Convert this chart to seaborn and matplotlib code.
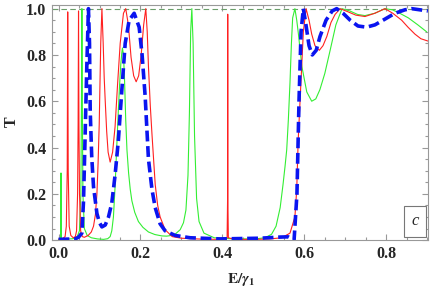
import matplotlib
matplotlib.use('Agg')
import matplotlib.pyplot as plt
import seaborn as sns
from matplotlib.ticker import MultipleLocator

# red curve
red_x = [0.0, 0.010, 0.016, 0.019, 0.0212, 0.0224, 0.0236, 0.026, 0.030, 0.036,
         0.041, 0.044, 0.0465, 0.0478, 0.0488, 0.0498, 0.0512, 0.054, 0.058, 0.063,
         0.0724, 0.080, 0.0854, 0.0900, 0.0937, 0.0965, 0.0993, 0.103, 0.1059, 0.109,
         0.1115, 0.114, 0.1175, 0.121, 0.126, 0.132, 0.138, 0.144, 0.1505, 0.1585,
         0.164, 0.1705, 0.177, 0.1834, 0.1895, 0.1956, 0.2017, 0.2078, 0.213, 0.2165,
         0.2195, 0.224, 0.228, 0.236, 0.242, 0.248, 0.260, 0.2775, 0.30, 0.35,
         0.40, 0.4115, 0.4128, 0.413, 0.4132, 0.4145, 0.43, 0.48, 0.516, 0.545,
         0.565, 0.577, 0.5815, 0.585, 0.5895, 0.5976, 0.6043, 0.6115, 0.618, 0.626,
         0.6366, 0.6456, 0.655, 0.665, 0.675, 0.6875, 0.707, 0.7256, 0.748, 0.772,
         0.7968, 0.816, 0.8376, 0.853, 0.870, 0.8846, 0.9017]
red_y = [0.004, 0.006, 0.015, 0.06, 0.3, 0.986, 0.3, 0.06, 0.02, 0.01,
         0.015, 0.04, 0.2, 0.5, 0.99, 0.5, 0.2, 0.04, 0.015, 0.012,
         0.02, 0.035, 0.06, 0.11, 0.2, 0.33, 0.5, 0.85, 1.0, 0.85,
         0.7, 0.6, 0.47, 0.38, 0.337, 0.38, 0.49, 0.67, 0.85, 0.98,
         1.0, 0.93, 0.79, 0.71, 0.684, 0.71, 0.8, 0.93, 1.0, 0.9,
         0.75, 0.58, 0.46, 0.24, 0.15, 0.1, 0.045, 0.015, 0.008, 0.004,
         0.003, 0.01, 0.2, 0.976, 0.2, 0.01, 0.003, 0.003, 0.005, 0.01,
         0.03, 0.1, 0.22, 0.43, 0.6, 0.9, 1.0, 0.95, 0.89, 0.84,
         0.82, 0.84, 0.88, 0.94, 0.975, 1.0, 0.986, 0.972, 0.966, 0.98,
         1.0, 0.98, 0.95, 0.92, 0.89, 0.87, 0.86]

# green curve
green_x = [0.0, 0.004, 0.0055, 0.006, 0.0065, 0.008, 0.02, 0.035, 0.045, 0.051,
           0.0545, 0.056, 0.057, 0.058, 0.0595, 0.063, 0.07, 0.08, 0.095, 0.110,
           0.120, 0.126, 0.130, 0.134, 0.138, 0.142, 0.146, 0.149, 0.152, 0.1545,
           0.156, 0.1585, 0.161, 0.164, 0.167, 0.171, 0.175, 0.179, 0.186, 0.195,
           0.206, 0.2195, 0.235, 0.252, 0.264, 0.275, 0.285, 0.297, 0.305, 0.311,
           0.316, 0.3195, 0.3225, 0.3254, 0.3285, 0.332, 0.337, 0.343, 0.355, 0.38,
           0.43, 0.48, 0.504, 0.520, 0.531, 0.541, 0.548, 0.553, 0.557, 0.561,
           0.565, 0.5685, 0.5715, 0.577, 0.5815, 0.5856, 0.594, 0.606, 0.618, 0.628,
           0.638, 0.650, 0.663, 0.677, 0.692, 0.711, 0.730, 0.748, 0.772, 0.797,
           0.815, 0.833, 0.854, 0.877, 0.8985]
green_y = [0.003, 0.005, 0.02, 0.29, 0.02, 0.005, 0.004, 0.006, 0.012, 0.04,
           0.2, 0.6, 1.0, 0.6, 0.2, 0.05, 0.02, 0.01, 0.005, 0.003,
           0.006, 0.015, 0.04, 0.1, 0.23, 0.4, 0.56, 0.67, 0.76, 0.81,
           0.83, 0.8, 0.7, 0.52, 0.39, 0.29, 0.22, 0.17, 0.12, 0.08,
           0.055, 0.035, 0.024, 0.018, 0.017, 0.02, 0.026, 0.045, 0.075, 0.13,
           0.28, 0.55, 0.9, 1.0, 0.85, 0.45, 0.18, 0.08, 0.03, 0.01,
           0.005, 0.005, 0.01, 0.025, 0.06, 0.14, 0.24, 0.32, 0.39, 0.52,
           0.68, 0.85, 0.96, 1.0, 0.95, 0.89, 0.75, 0.64, 0.6, 0.61,
           0.65, 0.72, 0.82, 0.93, 1.0, 0.99, 0.975, 0.97, 0.98, 1.0,
           0.995, 0.98, 0.96, 0.93, 0.9]

# blue dashed curve
blue_x = [0.0, 0.041, 0.049, 0.057, 0.061, 0.065, 0.069, 0.073, 0.0756, 0.0773,
          0.0810, 0.0854, 0.0937, 0.1000, 0.1059, 0.114, 0.122, 0.130, 0.138, 0.146,
          0.1546, 0.1627, 0.1724, 0.1846, 0.1968, 0.204, 0.2115, 0.2195, 0.228, 0.236,
          0.248, 0.2602, 0.2846, 0.321, 0.394, 0.492, 0.541, 0.5605, 0.570, 0.575,
          0.582, 0.587, 0.592, 0.5976, 0.604, 0.6115, 0.6195, 0.629, 0.6383, 0.653,
          0.668, 0.679, 0.6946, 0.712, 0.731, 0.752, 0.7724, 0.797, 0.8212, 0.8456,
          0.862, 0.882, 0.9017]
blue_y = [0.003, 0.005, 0.013, 0.03, 0.17, 0.46, 0.75, 1.0, 0.85, 0.56,
          0.36, 0.23, 0.115, 0.075, 0.057, 0.065, 0.1, 0.16, 0.28, 0.43,
          0.65, 0.85, 0.95, 0.98, 0.92, 0.8, 0.62, 0.35, 0.22, 0.14,
          0.07, 0.04, 0.02, 0.01, 0.005, 0.008, 0.013, 0.014, 0.005, 0.0,
          0.2, 0.6, 0.9, 1.0, 0.93, 0.84, 0.80, 0.82, 0.88, 0.95,
          0.99, 1.0, 0.98, 0.95, 0.925, 0.92, 0.93, 0.955, 0.98, 0.995,
          1.0, 0.995, 0.99]

x_ticks = [0.0, 0.2, 0.4, 0.6, 0.8]
y_ticks = [0.0, 0.2, 0.4, 0.6, 0.8, 1.0]

sns.set_style('ticks')
plt.rcParams['font.family'] = ['Liberation Serif', 'DejaVu Serif']
plt.rcParams['mathtext.fontset'] = 'stix'

fig = plt.figure(figsize=(4.35, 2.91), dpi=100)
ax = fig.add_axes([0.1195, 0.175, 0.8645, 0.808])

ax.axhline(1.0, color='#6a9e6a', lw=0.8, ls=(0, (5, 3)))
sns.lineplot(x=green_x, y=green_y, color='#33ee33', lw=0.8, ax=ax)
sns.lineplot(x=red_x, y=red_y, color='#ff2020', lw=0.8, ax=ax)
sns.lineplot(x=blue_x, y=blue_y, color='#0a14f0', lw=2.6, ls=(0, (3, 1.3)), ax=ax)

ax.set_xlim(-0.016, 0.902)
ax.set_ylim(0.0, 1.016)
ax.set_xticks(x_ticks)
ax.set_yticks(y_ticks)
ax.set_xticklabels([f'{v:.1f}' for v in x_ticks])
ax.set_yticklabels([f'{v:.1f}' for v in y_ticks])
ax.xaxis.set_minor_locator(MultipleLocator(0.05))
ax.yaxis.set_minor_locator(MultipleLocator(0.05))
ax.tick_params(which='both', direction='in', top=True, right=True, color='#999999',
               width=0.8)
ax.tick_params(which='major', length=4.5, labelsize=11.5, pad=4)
ax.tick_params(which='minor', length=2.5)
for lab in ax.get_xticklabels() + ax.get_yticklabels():
    lab.set_fontweight('bold')
for sp in ax.spines.values():
    sp.set_color('#999999')
    sp.set_linewidth(0.8)

fig.text(241 / 435, 1 - 280 / 291, r'$\mathbf{E/}\boldsymbol{\gamma}_{\mathbf{1}}$',
         fontsize=11, ha='center', va='center')
fig.text(12 / 435, 1 - 122 / 291, 'T', fontsize=11.5, fontweight='bold',
         rotation=90, ha='center', va='center')

ax.text(0.966, 0.08, 'c', transform=ax.transAxes, fontsize=12, style='italic',
        ha='center', va='center',
        bbox=dict(boxstyle='square,pad=0.45', fc='white', ec='#777777', lw=0.8))

plt.savefig('out.png', dpi=100)
